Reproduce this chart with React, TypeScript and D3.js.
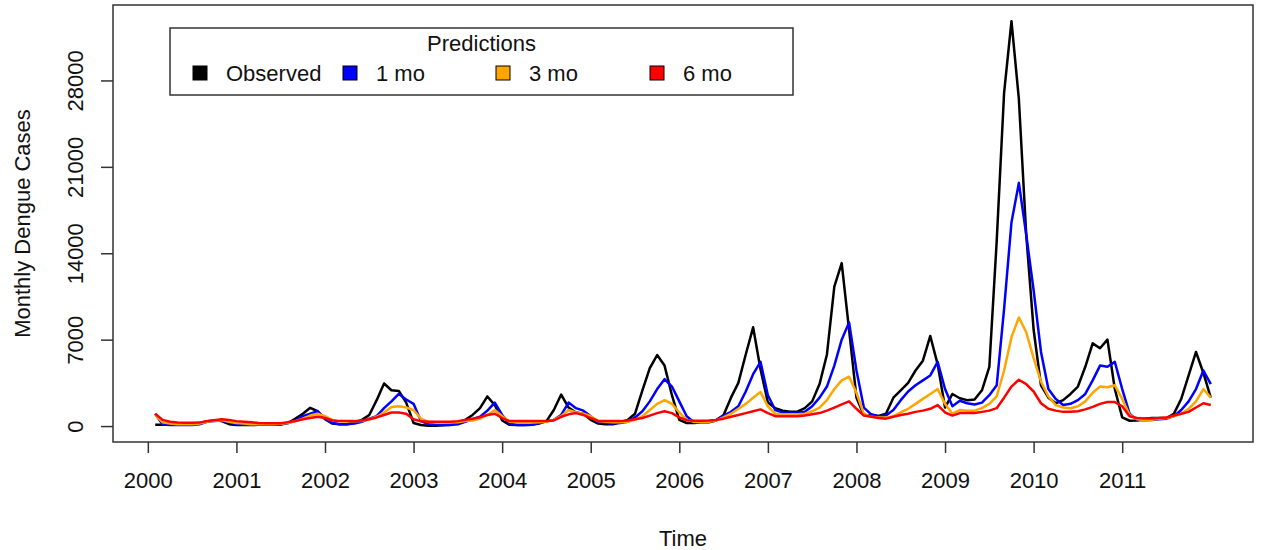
import { useRef, useEffect } from "react";
import * as d3 from "d3";

// tick years on the time axis
const years = [2000, 2001, 2002, 2003, 2004, 2005, 2006, 2007, 2008, 2009, 2010, 2011];
const yTicks = [0, 7000, 14000, 21000, 28000];

// monthly dengue cases, 12 values per row (one row per year)
const observed = [
  100, 100, 100, 100, 100, 120, 250, 400, 450, 400, 150, 80,
  80, 80, 100, 100, 100, 150, 250, 600, 1000, 1480, 1200, 550,
  200, 150, 150, 300, 500, 900, 2100, 3450, 2900, 2850, 1900, 250,
  80, 30, 20, 60, 100, 300, 500, 900, 1450, 2400, 1700, 450,
  100, 80, 80, 100, 200, 400, 1300, 2550, 1500, 1100, 1000, 500,
  200, 150, 150, 300, 500, 1000, 2900, 4700, 5750, 4900, 2500, 500,
  250, 250, 300, 300, 450, 900, 2300, 3500, 5800, 8000, 4600, 1900,
  1450, 1250, 1160, 1160, 1450, 2000, 3400, 5800, 11300, 13200, 7800, 2300,
  900, 880, 820, 1000, 2300, 2900, 3500, 4500, 5300, 7300, 5000, 1500,
  2600, 2250, 2100, 2150, 2900, 4800, 15000, 27000, 32800, 26500, 15500, 7800,
  3300, 2300, 1850, 2100, 2600, 3200, 4800, 6700, 6300, 7000, 3000, 700,
  430, 450, 600, 650, 650, 650, 1000, 2200, 4100, 6000, 4300, 2300,
];

const pred1mo = [
  1000, 120, 80, 80, 80, 80, 150, 350, 400, 450, 300, 150,
  100, 100, 100, 100, 100, 120, 250, 450, 800, 1000, 1200, 600,
  250, 150, 150, 200, 350, 600, 800, 1450, 2000, 2600, 2150, 1800,
  400, 150, 100, 80, 80, 150, 350, 550, 760, 1250, 1900, 900,
  200, 80, 80, 100, 250, 400, 500, 900, 1900, 1450, 1250, 800,
  300, 250, 200, 250, 350, 700, 1200, 2000, 3000, 3800, 3200, 2000,
  800, 300, 300, 350, 500, 850, 1150, 1600, 2800, 4200, 5200, 2500,
  1300, 1100, 1080, 1080, 1150, 1600, 2300, 3200, 4900, 7000, 8400, 4500,
  1500, 950, 800, 850, 1300, 2100, 2800, 3300, 3700, 4100, 5200, 3000,
  1600, 2050, 1850, 1750, 1900, 2500, 3300, 9500, 16500, 19700, 15500, 11000,
  6000, 3000, 2200, 1700, 1800, 2100, 2600, 3700, 4900, 4800, 5200, 3000,
  1000, 500, 480, 500, 550, 600, 800, 1300, 2000, 3000, 4500, 3400,
];

const pred3mo = [
  900, 300, 200, 150, 150, 150, 200, 350, 420, 480, 350, 250,
  200, 150, 150, 150, 150, 180, 250, 400, 600, 850, 1000, 800,
  500, 400, 380, 380, 400, 550, 750, 1100, 1550, 1600, 1500, 1300,
  600, 350, 300, 280, 280, 300, 400, 450, 600, 900, 1300, 800,
  350, 300, 280, 280, 300, 350, 500, 800, 1300, 1100, 1000, 800,
  400, 350, 300, 300, 350, 500, 800, 1300, 1800, 2100, 1800, 1100,
  500, 350, 300, 350, 450, 700, 1000, 1400, 1800, 2300, 2750, 1600,
  1000, 950, 950, 950, 1000, 1200, 1500, 2100, 3000, 3700, 4000, 2700,
  1000, 750, 700, 700, 800, 1100, 1400, 1800, 2200, 2600, 3000, 1800,
  1000, 1300, 1250, 1250, 1450, 1800, 2400, 4500, 7200, 8800, 7600, 5500,
  3600, 2400, 1700, 1500, 1450, 1600, 2000, 2700, 3200, 3150, 3300, 2200,
  900, 550, 500, 500, 600, 650, 800, 1000, 1400, 2000, 3000, 2300,
];

const pred6mo = [
  1000, 500, 350, 280, 260, 260, 280, 400, 480, 550, 500, 400,
  350, 300, 250, 220, 220, 220, 320, 400, 550, 650, 750, 650,
  450, 400, 400, 400, 450, 550, 700, 900, 1100, 1100, 1000, 550,
  380, 350, 350, 350, 350, 400, 500, 600, 720, 900, 1000, 650,
  400, 400, 400, 400, 400, 400, 450, 750, 950, 1050, 900, 650,
  420, 400, 400, 400, 450, 550, 650, 850, 1050, 1200, 1050, 700,
  480, 430, 430, 450, 500, 600, 750, 900, 1050, 1200, 1350, 1050,
  800, 800, 800, 800, 850, 950, 1050, 1250, 1500, 1750, 2000, 1400,
  850, 750, 650, 600, 750, 900, 1000, 1150, 1250, 1400, 1700, 1100,
  850, 1050, 1050, 1050, 1150, 1250, 1450, 2300, 3200, 3750, 3400, 2800,
  1850, 1400, 1250, 1150, 1150, 1200, 1350, 1550, 1800, 1950, 1950, 1600,
  800, 650, 620, 620, 650, 700, 850, 1000, 1150, 1500, 1850, 1700,
];

const seriesNames = ["Observed", "1 mo", "3 mo", "6 mo"];
const seriesColors = ["#000000", "#0000ff", "#ffa500", "#ff0000"];

export default function App() {
  const svgRef = useRef<SVGSVGElement>(null);

  useEffect(() => {
    const width = 1263;
    const height = 550;
    const margin = { top: 5, right: 10, bottom: 108, left: 113 };
    const font = "'Liberation Sans', Arial, Helvetica, sans-serif";
    const fs = 22;

    const svg = d3.select(svgRef.current);
    svg.selectAll("*").remove();
    svg
      .attr("width", width)
      .attr("height", height)
      .attr("viewBox", `0 0 ${width} ${height}`)
      .style("font-family", font)
      .style("background", "#fff");

    const series = [observed, pred1mo, pred3mo, pred6mo];
    // first value is Feb 2000 (one month after the 2000 tick)
    const time = observed.map((_, i) => years[0] + (i + 1) / 12);

    // R style axis padding (4% each side)
    const rPad = (lo: number, hi: number) => {
      const d = (hi - lo) * 0.04;
      return [lo - d, hi + d];
    };
    const allVals = series.flat();

    const x = d3
      .scaleLinear()
      .domain(rPad(d3.min(time)!, d3.max(time)!))
      .range([margin.left, width - margin.right]);
    const y = d3
      .scaleLinear()
      .domain(rPad(d3.min(allVals)!, d3.max(allVals)!))
      .range([height - margin.bottom, margin.top]);

    // x axis
    const xAxis = svg
      .append("g")
      .attr("transform", `translate(0,${height - margin.bottom})`)
      .call(
        d3
          .axisBottom(x)
          .tickValues(years)
          .tickFormat(d3.format("d"))
          .tickSize(11)
          .tickSizeOuter(0)
          .tickPadding(19)
      );
    xAxis.select(".domain").remove();
    xAxis.selectAll("line").attr("stroke", "#333").attr("stroke-width", 1.5);
    xAxis
      .selectAll("text")
      .attr("font-size", fs)
      .attr("font-family", font)
      .attr("fill", "#111");

    // y axis, labels rotated like R's las=0
    const yAxis = svg
      .append("g")
      .attr("transform", `translate(${margin.left},0)`)
      .call(d3.axisLeft(y).tickValues(yTicks).tickFormat(d3.format("d")).tickSize(12).tickSizeOuter(0));
    yAxis.select(".domain").remove();
    yAxis.selectAll("line").attr("stroke", "#333").attr("stroke-width", 1.5);
    yAxis
      .selectAll("text")
      .attr("font-size", fs)
      .attr("font-family", font)
      .attr("fill", "#111")
      .attr("transform", "rotate(-90)")
      .attr("text-anchor", "middle")
      .attr("x", 0)
      .attr("y", -30)
      .attr("dy", 0);

    // lines
    const line = d3
      .line<number>()
      .x((_, i) => x(time[i]))
      .y((d) => y(d));

    series.forEach((s, k) => {
      svg
        .append("path")
        .datum(s)
        .attr("fill", "none")
        .attr("stroke", seriesColors[k])
        .attr("stroke-width", 2.5)
        .attr("stroke-linejoin", "round")
        .attr("d", line);
    });

    // plot box
    svg
      .append("rect")
      .attr("x", margin.left)
      .attr("y", margin.top)
      .attr("width", width - margin.right - margin.left)
      .attr("height", height - margin.bottom - margin.top)
      .attr("fill", "none")
      .attr("stroke", "#333")
      .attr("stroke-width", 1.5);

    // axis titles
    svg
      .append("text")
      .attr("x", (margin.left + width - margin.right) / 2)
      .attr("y", 546)
      .attr("text-anchor", "middle")
      .attr("font-size", fs)
      .attr("fill", "#111")
      .text("Time");

    svg
      .append("text")
      .attr("transform", `translate(30,${(margin.top + height - margin.bottom) / 2}) rotate(-90)`)
      .attr("text-anchor", "middle")
      .attr("font-size", fs)
      .attr("fill", "#111")
      .text("Monthly Dengue Cases");

    // legend
    const lg = svg.append("g");
    lg.append("rect")
      .attr("x", 170)
      .attr("y", 28)
      .attr("width", 623)
      .attr("height", 67)
      .attr("fill", "#fff")
      .attr("stroke", "#333")
      .attr("stroke-width", 1.5);
    lg.append("text")
      .attr("x", 481.5)
      .attr("y", 51)
      .attr("text-anchor", "middle")
      .attr("font-size", fs)
      .attr("fill", "#111")
      .text("Predictions");

    const itemX = [193, 343, 496, 650];
    seriesNames.forEach((name, k) => {
      lg.append("rect")
        .attr("x", itemX[k])
        .attr("y", 66)
        .attr("width", 14)
        .attr("height", 14)
        .attr("fill", seriesColors[k])
        .attr("stroke", "#000")
        .attr("stroke-width", 1);
      lg.append("text")
        .attr("x", itemX[k] + 33)
        .attr("y", 81)
        .attr("font-size", fs)
        .attr("fill", "#111")
        .text(name);
    });
  }, []);

  return <svg ref={svgRef} style={{ position: "absolute", left: 0, top: 0, display: "block" }} />;
}
